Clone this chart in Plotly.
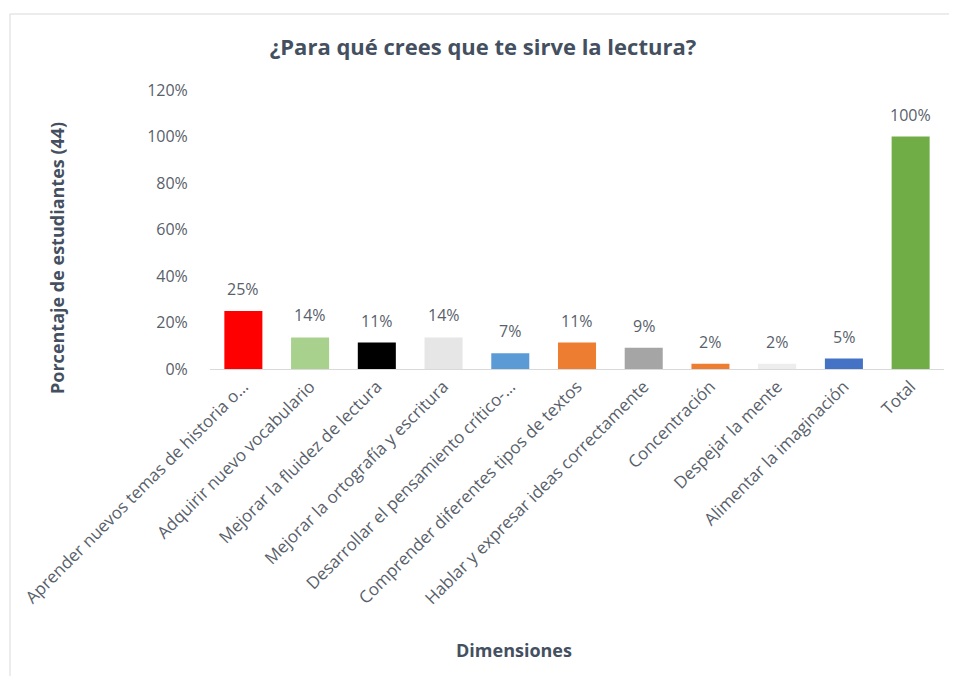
import plotly.graph_objects as go

# datos (44 estudiantes)
categorias = [
    'Aprender nuevos temas de historia o…',
    'Adquirir nuevo vocabulario',
    'Mejorar la fluidez de lectura',
    'Mejorar la ortografía y escritura',
    'Desarrollar el pensamiento crítico-…',
    'Comprender diferentes tipos de textos',
    'Hablar y expresar ideas correctamente',
    'Concentración',
    'Despejar la mente',
    'Alimentar la imaginación',
    'Total',
]
porcentajes = [0.25, 0.136, 0.114, 0.136, 0.068, 0.114, 0.091, 0.023, 0.023, 0.045, 1.00]
etiquetas = ['25%', '14%', '11%', '14%', '7%', '11%', '9%', '2%', '2%', '5%', '100%']
colores = ['#FF0000', '#A9D18E', '#000000', '#E7E6E6', '#5B9BD5', '#ED7D31',
           '#A5A5A5', '#ED7D31', '#EDEDED', '#4472C4', '#70AD47']

y_ticks = [0, 0.2, 0.4, 0.6, 0.8, 1.0, 1.2]

FONT = 'Open Sans'
TXT = '#595f6b'
DARK = '#44505f'

# la pagina tiene 8px de margen; se trabaja en coordenadas de la imagen menos 8
# y se deja sitio para que no aparezcan barras de desplazamiento
OFF = 8
W, H = 957 - 2 * OFF, 684 - 2 * OFF
L, T = 210 - OFF, 90 - OFF
R = W - (944 - OFF)
B = H - (369 - OFF)


def px(x):
    return (x - OFF - L) / (W - L - R)


def py(y):
    return (H - B - (y - OFF)) / (H - T - B)


fig = go.Figure()
fig.add_trace(go.Bar(
    x=categorias, y=porcentajes,
    marker=dict(color=colores, line=dict(width=0)),
    showlegend=False,
))

# etiquetas de datos encima de cada barra
for cat, val, lab in zip(categorias, porcentajes, etiquetas):
    fig.add_annotation(x=cat, y=val, text=lab, showarrow=False,
                       yanchor='bottom', yshift=9,
                       font=dict(family=FONT, size=16, color=TXT))

fig.update_layout(
    width=W, height=H,
    margin=dict(l=L, r=R, t=T, b=B, autoexpand=False),
    paper_bgcolor='white', plot_bgcolor='white',
    bargap=0.43,
    font=dict(family=FONT, color=TXT),
    title=dict(text='<b>¿Para qué crees que te sirve la lectura?</b>',
               x=px(483), xref='paper', xanchor='center',
               y=1 - (47 - OFF) / H, yanchor='middle',
               font=dict(family=FONT, size=22, color=DARK)),
    xaxis=dict(tickangle=-45, tickfont=dict(family=FONT, size=17, color=TXT),
               showline=True, linecolor='#D9D9D9', linewidth=1,
               showgrid=False, ticks='', automargin=False),
    yaxis=dict(range=[0, 1.2], tickvals=y_ticks, tickformat='.0%',
               tickfont=dict(family=FONT, size=16, color=TXT),
               showgrid=False, zeroline=False, showline=False,
               ticks='outside', ticklen=18, tickcolor='white',
               automargin=False),
    shapes=[
        dict(type='line', xref='paper', yref='paper', x0=px(10), x1=px(957),
             y0=py(14), y1=py(14), line=dict(color='#D9D9D9', width=1)),
        dict(type='line', xref='paper', yref='paper', x0=px(10), x1=px(10),
             y0=py(14), y1=py(684), line=dict(color='#D9D9D9', width=1)),
    ],
)

fig.add_annotation(text='<b>Porcentaje de estudiantes (44)</b>', textangle=-90,
                   x=px(57), y=py(258), xref='paper', yref='paper',
                   xanchor='center', yanchor='middle', showarrow=False,
                   font=dict(family=FONT, size=18, color=DARK))
fig.add_annotation(text='<b>Dimensiones</b>',
                   x=px(514), y=py(650), xref='paper', yref='paper',
                   xanchor='center', yanchor='middle', showarrow=False,
                   font=dict(family=FONT, size=18, color=DARK))

fig.write_html('out.html')
